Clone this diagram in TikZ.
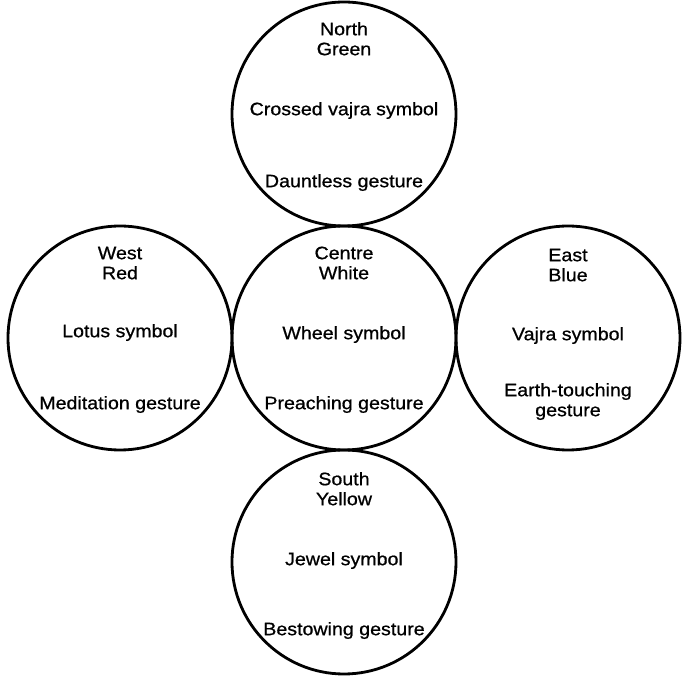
\documentclass[tikz,border=0pt]{standalone}
\usepackage{fontspec}
\setmainfont{Liberation Sans}[FakeStretch=1.09, FakeBold=0.8]
\usetikzlibrary{positioning}

\tikzset{
  quarter/.style={draw, circle, line width=2.8pt, minimum size=224pt, inner sep=0pt, outer sep=0pt},
  inscr/.style={align=center, inner sep=0pt, font=\fontsize{18}{20}\selectfont}
}

\begin{document}
\begin{tikzpicture}
\useasboundingbox (-344pt,-338pt) rectangle (342pt,338pt);
\node[quarter] (centre) at (0,0) {};
\node[quarter, above=0pt of centre] (north) {};
\node[quarter, below=0pt of centre] (south) {};
\node[quarter, left=0pt of centre] (west) {};
\node[quarter, right=0pt of centre] (east) {};

\node[inscr, below=19pt of north.north] (north-text) {\strut North\\Green\\[40pt]Crossed vajra symbol\\[52pt]Dauntless gesture};
\node[inscr, below=19pt of centre.north] (centre-text) {\strut Centre\\White\\[40pt]Wheel symbol\\[50pt]Preaching gesture};
\node[inscr, below=19pt of west.north] (west-text) {\strut West\\Red\\[38pt]Lotus symbol\\[52pt]Meditation gesture};
\node[inscr, below=21pt of east.north] (east-text) {\strut East\\Blue\\[39pt]Vajra symbol\\[36pt]Earth-touching\\gesture};
\node[inscr, below=21pt of south.north] (south-text) {\strut South\\Yellow\\[40pt]Jewel symbol\\[50pt]Bestowing gesture};
\end{tikzpicture}
\end{document}
